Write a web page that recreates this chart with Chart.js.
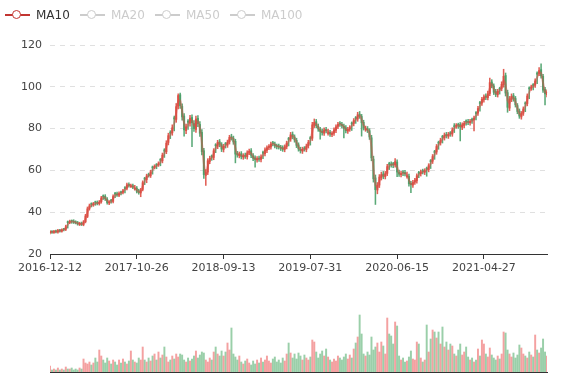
<!DOCTYPE html>
<html>
<head>
<meta charset="utf-8">
<script src="https://cdn.jsdelivr.net/npm/chart.js@4.4.1/dist/chart.umd.min.js"></script>
<style>
  html, body { margin: 0; padding: 0; background: #fff; }
  #wrap { position: relative; width: 577px; height: 380px; overflow: hidden; background: #fff; }
  #legend { position: absolute; left: 0; top: 0; width: 577px; height: 30px; font: 12px "DejaVu Sans", sans-serif; z-index: 2; }
  .item { position: absolute; top: 8px; height: 14px; display: flex; align-items: center; white-space: nowrap; }
  .icon { position: relative; width: 25px; height: 14px; margin-right: 6px; }
  .icon::before { content: ''; position: absolute; left: 0; right: 0; top: 6px; height: 2px; background: currentColor; }
  .icon::after { content: ''; position: absolute; left: 7px; top: 2px; width: 7px; height: 7px; border: 1.5px solid currentColor; border-radius: 50%; background: #fff; }
  #main { position: absolute; left: 0; top: 0; }
  #vol { position: absolute; left: 0; top: 290px; }
</style>
</head>
<body>
<div id="wrap">
  <div id="legend"></div>
  <canvas id="main" width="577" height="290"></canvas>
  <canvas id="vol" width="577" height="90"></canvas>
</div>
<script>
// one candle per ~5 trading days
const tickLabels = ['2016-12-12', '2017-10-26', '2018-09-13', '2019-07-31', '2020-06-15', '2021-04-27'];
const tickEvery = 44;

const opens = [
  30.2, 30.7, 30.3, 30.9, 30.5, 31.3, 30.9, 31.9, 31.8, 35.3,
  35.1, 35.9, 35.7, 35.3, 35.0, 34.2, 34.6, 34.1, 35.5, 38.0,
  41.8, 44.0, 43.5, 44.9, 44.6, 44.1, 45.0, 47.8, 47.6, 46.2,
  44.4, 45.7, 45.2, 49.0, 48.8, 48.1, 49.6, 49.5, 51.6, 51.4,
  53.3, 52.1, 52.7, 51.0, 51.5, 50.2, 49.2, 50.9, 56.2, 55.6,
  57.8, 57.4, 61.6, 61.5, 62.8, 62.7, 65.2, 64.6, 69.8, 69.0,
  73.4, 78.3, 78.0, 85.2, 84.4, 90.8, 96.2, 90.6, 86.0, 79.0,
  83.6, 82.6, 85.3, 82.4, 79.6, 84.9, 82.0, 78.2, 69.4, 57.6,
  59.2, 64.3, 66.9, 66.2, 72.2, 71.5, 73.7, 72.3, 70.0, 72.9,
  72.1, 73.7, 76.1, 75.4, 73.9, 68.1, 67.1, 68.0, 66.4, 67.3,
  66.5, 68.6, 69.4, 67.0, 66.0, 65.0, 65.9, 65.2, 68.7, 68.0,
  69.6, 71.0, 71.2, 72.9, 72.6, 71.6, 71.6, 71.0, 70.8, 70.0,
  71.4, 75.3, 75.0, 77.3, 76.0, 74.4, 72.2, 70.1, 69.2, 70.4,
  70.0, 71.8, 75.7, 75.4, 81.6, 83.3, 81.1, 79.6, 78.8, 77.8,
  79.6, 77.6, 78.2, 77.2, 77.8, 79.2, 81.1, 82.4, 82.0, 81.2,
  80.4, 78.8, 79.8, 82.7, 82.4, 85.3, 84.6, 86.9, 85.8, 83.0,
  79.4, 80.0, 79.0, 75.6, 65.4, 56.4, 50.6, 53.0, 56.6, 58.3,
  57.0, 58.6, 63.3, 63.0, 63.2, 62.6, 64.0, 59.0, 58.0, 59.2,
  59.0, 57.0, 57.2, 53.8, 53.0, 54.4, 55.0, 59.0, 58.4, 59.6,
  59.1, 61.0, 60.4, 64.6, 64.4, 69.0, 68.8, 73.4, 73.2, 76.2,
  75.6, 77.2, 76.4, 78.0, 77.4, 81.3, 81.2, 82.0, 81.9, 80.6,
  81.6, 83.7, 83.4, 82.8, 84.5, 84.2, 87.7, 87.4, 92.5, 92.2,
  93.8, 95.6, 94.8, 96.8, 102.3, 100.4, 97.8, 96.2, 99.3, 99.2,
  101.0, 105.4, 97.2, 89.8, 94.0, 95.8, 94.4, 91.0, 88.4, 85.6,
  87.4, 92.3, 92.0, 99.5, 99.4, 101.1, 100.8, 106.6, 106.4, 108.2,
  105.0, 98.8, 96.2
];

const closes = [
  30.6, 30.4, 30.8, 30.6, 31.2, 31.0, 31.5, 31.7, 33.0, 35.0,
  35.4, 35.6, 35.2, 35.0, 34.4, 34.5, 34.2, 35.3, 38.2, 41.6,
  43.0, 43.7, 43.9, 44.5, 44.2, 44.8, 46.8, 47.4, 46.4, 44.6,
  44.8, 45.3, 47.5, 48.6, 48.3, 48.9, 49.3, 50.2, 51.3, 53.1,
  52.8, 52.5, 52.0, 51.4, 50.0, 49.4, 50.6, 54.1, 55.8, 57.3,
  57.6, 59.2, 61.2, 61.8, 62.4, 63.2, 64.8, 67.3, 69.2, 73.0,
  76.6, 77.8, 80.4, 84.6, 90.5, 95.8, 91.0, 85.6, 79.4, 80.8,
  83.0, 85.0, 82.8, 80.0, 84.6, 82.4, 77.8, 69.0, 58.0, 59.0,
  64.6, 65.8, 66.4, 69.4, 71.8, 73.4, 72.5, 70.2, 71.5, 72.4,
  73.5, 75.8, 75.6, 73.6, 67.8, 67.4, 67.8, 66.6, 67.0, 66.8,
  68.4, 69.2, 67.2, 65.8, 65.2, 65.6, 65.4, 66.4, 68.2, 69.8,
  70.8, 71.4, 72.6, 72.8, 71.8, 71.4, 71.3, 70.6, 70.2, 71.2,
  73.0, 74.8, 77.0, 76.2, 74.6, 72.0, 70.3, 69.4, 70.1, 70.3,
  71.6, 73.4, 75.2, 81.8, 83.0, 81.4, 79.8, 78.6, 78.0, 79.4,
  79.0, 78.0, 77.4, 77.6, 79.4, 80.8, 82.0, 82.2, 81.4, 80.2,
  79.0, 79.6, 80.4, 82.2, 83.8, 84.8, 86.6, 86.0, 82.8, 80.4,
  79.8, 79.2, 76.0, 66.0, 56.0, 50.8, 52.8, 56.8, 58.0, 57.2,
  58.4, 61.8, 62.8, 62.6, 62.8, 64.2, 59.2, 58.2, 58.4, 58.8,
  58.4, 57.4, 53.6, 53.2, 54.2, 55.2, 57.4, 58.6, 59.2, 59.4,
  59.8, 60.6, 62.2, 64.2, 66.6, 68.6, 71.4, 73.0, 74.4, 75.8,
  76.9, 76.6, 77.2, 77.6, 79.4, 80.9, 81.4, 81.6, 80.8, 81.8,
  82.5, 83.2, 83.0, 83.4, 84.0, 85.0, 87.2, 89.6, 92.0, 94.0,
  95.2, 95.0, 96.6, 102.0, 100.6, 97.4, 96.4, 97.8, 98.8, 101.2,
  105.0, 97.0, 90.2, 94.2, 95.4, 94.2, 91.4, 88.2, 86.0, 87.2,
  89.4, 91.8, 95.6, 99.0, 99.8, 100.6, 102.8, 106.0, 107.8, 105.2,
  98.4, 96.6, 97.6
];

const highs = [
  31.2, 31.2, 31.3, 31.4, 31.8, 31.8, 32.0, 32.3, 33.8, 35.8,
  36.2, 36.3, 36.4, 35.9, 35.6, 35.2, 35.3, 36.0, 39.0, 42.5,
  43.9, 44.5, 44.7, 45.3, 45.4, 45.6, 47.6, 48.3, 48.4, 47.0,
  45.6, 46.1, 48.3, 49.5, 49.6, 49.7, 50.1, 51.0, 52.2, 53.9,
  54.1, 53.4, 53.5, 52.9, 52.3, 51.0, 51.4, 55.0, 56.7, 58.2,
  58.7, 60.1, 62.1, 62.7, 63.3, 64.1, 65.7, 68.3, 70.4, 74.2,
  77.8, 79.0, 81.8, 86.0, 92.0, 96.6, 97.0, 91.8, 87.2, 82.2,
  84.3, 86.4, 86.6, 83.8, 86.0, 86.2, 83.3, 79.5, 70.6, 60.4,
  65.6, 66.8, 67.4, 70.4, 72.8, 74.4, 74.8, 73.3, 72.5, 73.4,
  74.5, 76.8, 77.3, 76.4, 74.9, 69.1, 68.8, 69.0, 68.0, 68.3,
  69.4, 70.2, 70.4, 68.0, 67.0, 66.6, 66.9, 67.4, 69.2, 70.8,
  71.8, 72.4, 73.6, 73.9, 73.6, 72.6, 72.6, 72.0, 71.8, 72.2,
  74.0, 75.8, 78.2, 78.4, 77.0, 75.4, 73.2, 71.1, 71.1, 71.4,
  72.6, 74.4, 76.2, 83.0, 84.6, 84.4, 82.2, 80.6, 79.8, 80.4,
  80.6, 79.8, 79.2, 78.6, 80.4, 81.8, 83.0, 83.4, 83.0, 82.2,
  81.4, 80.6, 81.4, 83.2, 84.8, 85.8, 87.8, 88.2, 86.8, 84.0,
  81.2, 81.0, 80.0, 76.8, 66.8, 57.8, 54.2, 58.0, 59.2, 59.5,
  59.5, 62.9, 63.9, 64.1, 63.9, 65.6, 65.0, 60.1, 59.5, 59.9,
  60.0, 59.2, 58.2, 54.8, 55.2, 56.2, 58.4, 59.6, 60.2, 60.6,
  60.8, 61.6, 63.2, 65.2, 67.6, 69.6, 72.4, 74.0, 75.4, 76.8,
  77.9, 78.2, 78.2, 78.6, 80.4, 82.4, 82.4, 82.6, 82.9, 82.8,
  83.5, 84.2, 84.4, 84.4, 85.0, 86.0, 88.2, 90.6, 93.0, 95.0,
  96.2, 96.6, 98.0, 104.2, 103.4, 101.4, 98.8, 98.8, 99.8, 102.4,
  108.4, 106.6, 98.4, 95.4, 96.6, 96.8, 95.4, 92.0, 89.4, 88.2,
  90.4, 92.8, 96.6, 100.0, 100.8, 101.6, 103.8, 107.2, 109.2, 111.0,
  106.0, 99.8, 98.6
];

const lows = [
  29.6, 29.9, 29.8, 30.1, 30.0, 30.5, 30.4, 31.0, 31.2, 32.4,
  34.5, 34.7, 34.6, 34.4, 33.8, 33.6, 33.6, 33.5, 34.9, 37.4,
  41.0, 42.5, 42.8, 43.3, 43.5, 43.4, 44.3, 46.1, 45.6, 43.8,
  43.6, 44.3, 44.5, 46.9, 47.6, 47.4, 48.3, 48.8, 49.2, 50.7,
  52.0, 51.8, 51.3, 50.6, 49.2, 48.6, 47.4, 50.2, 53.2, 54.1,
  56.8, 56.6, 58.2, 60.7, 60.8, 61.9, 62.2, 63.6, 66.2, 68.0,
  72.2, 75.2, 76.8, 78.9, 83.0, 89.4, 89.6, 84.0, 76.4, 77.6,
  79.6, 81.2, 71.3, 78.6, 78.2, 80.9, 76.2, 67.4, 56.2, 52.8,
  58.0, 63.2, 64.8, 65.1, 68.5, 70.4, 71.3, 69.0, 68.8, 70.7,
  71.0, 72.6, 74.5, 72.5, 63.6, 66.3, 66.0, 65.5, 65.3, 65.7,
  65.4, 67.5, 66.1, 64.7, 61.6, 63.9, 64.3, 64.1, 65.6, 66.9,
  68.5, 69.9, 70.1, 71.7, 70.7, 70.3, 70.2, 69.5, 69.1, 68.9,
  70.3, 71.7, 73.9, 75.1, 73.5, 70.9, 69.2, 68.3, 68.1, 69.2,
  68.9, 70.7, 72.1, 74.3, 80.5, 80.3, 78.7, 75.0, 76.9, 76.7,
  77.9, 76.9, 76.3, 76.1, 76.7, 78.1, 80.0, 81.1, 80.3, 75.6,
  77.9, 77.7, 78.7, 79.1, 81.3, 82.5, 83.5, 84.9, 76.4, 79.3,
  78.7, 78.1, 74.8, 64.6, 54.4, 43.7, 48.8, 51.8, 55.4, 56.0,
  55.9, 57.5, 60.4, 61.5, 61.3, 61.5, 57.0, 57.1, 56.9, 57.5,
  57.3, 56.3, 52.5, 49.3, 51.9, 53.3, 53.9, 56.5, 57.3, 58.3,
  58.0, 57.2, 59.3, 60.9, 63.3, 65.3, 67.7, 70.1, 72.1, 73.1,
  74.5, 75.5, 75.3, 76.3, 76.3, 78.1, 80.1, 80.1, 74.1, 79.5,
  80.5, 81.7, 81.9, 81.7, 82.5, 78.9, 84.1, 86.3, 88.3, 91.1,
  92.7, 93.9, 93.7, 95.7, 99.5, 96.3, 95.3, 95.1, 96.5, 98.1,
  99.8, 95.6, 87.8, 88.6, 92.9, 93.1, 90.3, 87.1, 84.9, 84.5,
  86.3, 88.1, 90.9, 94.3, 98.3, 98.5, 99.7, 101.5, 105.3, 104.1,
  97.3, 91.3, 95.1
];

const ma10 = [
  30.6, 30.5, 30.6, 30.7, 30.9, 31.1, 31.3, 31.6, 32.4, 34.0,
  35.2, 35.5, 35.4, 35.1, 34.7, 34.5, 34.4, 34.8, 36.8, 39.9,
  42.3, 43.4, 43.8, 44.2, 44.4, 44.5, 45.8, 47.1, 46.9, 45.5,
  44.7, 45.1, 46.4, 48.1, 48.5, 48.6, 49.1, 49.8, 50.8, 52.2,
  53.0, 52.7, 52.3, 51.7, 50.7, 49.7, 50.0, 52.4, 55.0, 56.6,
  57.5, 58.4, 60.2, 61.5, 62.1, 62.8, 64.0, 66.1, 68.3, 71.1,
  74.8, 77.2, 79.1, 82.5, 87.6, 93.2, 93.4, 88.3, 82.5, 80.1,
  81.9, 84.0, 83.9, 81.4, 82.3, 83.5, 80.1, 73.4, 63.5, 58.5,
  61.8, 65.2, 66.1, 67.9, 70.6, 72.6, 73.0, 71.4, 70.9, 72.0,
  73.0, 74.7, 75.7, 74.6, 70.7, 67.6, 67.6, 67.2, 66.8, 66.9,
  67.6, 68.8, 68.2, 66.5, 65.5, 65.4, 65.5, 65.9, 67.3, 69.0,
  70.3, 71.1, 72.0, 72.7, 72.3, 71.6, 71.4, 71.0, 70.4, 70.7,
  72.1, 73.9, 75.9, 76.6, 75.4, 73.3, 71.2, 69.9, 69.8, 70.2,
  71.0, 72.5, 74.3, 78.5, 82.4, 82.2, 80.6, 79.2, 78.3, 78.7,
  79.2, 78.5, 77.7, 77.5, 78.5, 80.1, 81.4, 82.1, 81.8, 80.8,
  79.6, 79.3, 80.0, 81.3, 83.0, 84.3, 85.7, 86.3, 84.4, 81.6,
  80.1, 79.5, 77.6, 71.0, 61.0, 53.4, 51.8, 54.8, 57.4, 57.6,
  57.8, 60.1, 62.3, 62.7, 62.7, 63.5, 61.7, 58.7, 58.3, 58.6,
  58.6, 57.9, 55.5, 53.4, 53.7, 54.7, 56.3, 58.0, 58.9, 59.3,
  59.6, 60.2, 61.4, 63.2, 65.4, 67.6, 70.0, 72.2, 73.7, 75.1,
  76.4, 76.8, 76.9, 77.4, 78.5, 80.2, 81.2, 81.5, 81.2, 81.3,
  82.2, 82.9, 83.1, 83.2, 83.7, 84.5, 86.1, 88.4, 90.8, 93.0,
  94.6, 95.1, 95.8, 99.3, 101.3, 99.0, 96.9, 97.1, 98.3, 100.0,
  103.1, 101.0, 93.6, 92.2, 94.8, 94.8, 92.8, 89.8, 87.1, 86.6,
  88.3, 90.6, 93.7, 97.3, 99.4, 100.2, 101.7, 104.4, 106.9, 106.5,
  101.8, 97.5, 97.1
];

const volumes = [
  6, 2, 3, 2, 4, 2, 3, 2, 5, 3,
  3, 4, 2, 3, 2, 4, 3, 13, 9, 8,
  10, 7, 9, 14, 10, 22, 16, 12, 9, 14,
  11, 8, 12, 10, 7, 12, 9, 13, 10, 8,
  11, 21, 12, 10, 9, 14, 12, 25, 12, 10,
  14, 11, 16, 18, 12, 20, 14, 17, 25, 15,
  10, 12, 16, 13, 18, 15, 18, 17, 12, 10,
  14, 11, 13, 16, 21, 14, 17, 20, 19, 12,
  10, 14, 12, 20, 25, 18, 16, 21, 16, 20,
  29, 22, 44, 18, 15, 12, 16, 10, 8, 11,
  13, 9, 7, 11, 8, 12, 9, 14, 10, 12,
  16, 11, 9, 13, 15, 10, 12, 9, 14, 11,
  18, 29, 19, 14, 18, 13, 19, 16, 12, 17,
  14, 12, 15, 32, 30, 20, 14, 18, 21, 16,
  23, 15, 12, 10, 13, 11, 16, 14, 12, 15,
  18, 13, 17, 14, 23, 29, 35, 57, 38, 18,
  16, 20, 17, 35, 22, 25, 29, 20, 30, 26,
  18, 54, 38, 36, 28, 50, 46, 16, 12, 14,
  10, 11, 15, 21, 13, 12, 30, 28, 14, 10,
  12, 47, 20, 33, 42, 40, 34, 40, 28, 45,
  25, 30, 22, 28, 26, 18, 16, 22, 28, 17,
  20, 25, 15, 12, 14, 10, 12, 23, 16, 32,
  28, 18, 15, 24, 17, 14, 12, 16, 13, 18,
  40, 39, 22, 18, 15, 19, 14, 17, 27, 24,
  18, 16, 14, 20, 17, 15, 37, 22, 19, 24,
  33, 20, 16
];

const legendNames = ['MA10', 'MA20', 'MA50', 'MA100'];
const legendActive = [true, false, false, false];

const FONT = '"DejaVu Sans", sans-serif';

const labels = closes.map((_, i) => i);
const isUp = closes.map((c, i) => c >= opens[i]);
const candleColors = isUp.map(u => u ? 'rgba(222,78,68,0.9)' : 'rgba(72,160,104,0.9)');
const volColors = isUp.map(u => u ? 'rgba(235,84,84,0.55)' : 'rgba(71,168,98,0.55)');

// legend (ECharts style, inactive series greyed out)
const legend = document.getElementById('legend');
legendNames.forEach((name, i) => {
  const item = document.createElement('div');
  item.className = 'item';
  item.style.left = (5 + i * 75) + 'px';
  item.style.color = legendActive[i] ? '#c23531' : '#ccc';
  const icon = document.createElement('span');
  icon.className = 'icon';
  const text = document.createElement('span');
  text.textContent = name;
  text.style.color = legendActive[i] ? '#333' : '#ccc';
  item.appendChild(icon);
  item.appendChild(text);
  legend.appendChild(item);
});

const showTick = i => i % tickEvery === 0 && tickLabels[i / tickEvery] !== undefined;

new Chart(document.getElementById('main'), {
  data: {
    labels,
    datasets: [
      {
        type: 'line',
        label: 'MA10',
        data: ma10,
        borderColor: 'rgba(214,80,70,0.5)',
        borderWidth: 2,
        pointRadius: 0,
        tension: 0.3,
        order: 0
      },
      {
        type: 'bar',
        label: 'body',
        data: opens.map((o, i) => [o, closes[i]]),
        backgroundColor: candleColors,
        barThickness: 1.4,
        minBarLength: 1,
        grouped: false,
        order: 1
      },
      {
        type: 'bar',
        label: 'wick',
        data: lows.map((l, i) => [l, highs[i]]),
        backgroundColor: candleColors,
        barThickness: 0.9,
        grouped: false,
        order: 2
      }
    ]
  },
  options: {
    responsive: false,
    animation: false,
    layout: { padding: { left: 0, right: 30, top: 45, bottom: 6 } },
    plugins: { legend: { display: false }, tooltip: { enabled: false } },
    scales: {
      x: {
        type: 'category',
        offset: false,
        grid: {
          display: true,
          offset: false,
          drawOnChartArea: false,
          tickLength: 5,
          color: ctx => showTick(ctx.index) ? '#333' : 'rgba(0,0,0,0)'
        },
        border: { display: true, color: '#333', width: 1 },
        ticks: {
          autoSkip: false,
          maxRotation: 0,
          minRotation: 0,
          padding: 3,
          color: '#444',
          font: { family: FONT, size: 11 },
          callback: (v, i) => showTick(i) ? tickLabels[i / tickEvery] : ''
        },
        afterFit: s => { s.height = 30; }
      },
      y: {
        min: 20,
        max: 120,
        ticks: { stepSize: 20, padding: 8, color: '#444', font: { family: FONT, size: 11 } },
        grid: { color: '#e0e0e0', drawTicks: false },
        border: { display: false, dash: [5, 5] },
        afterFit: s => { s.width = 50; }
      }
    }
  }
});

new Chart(document.getElementById('vol'), {
  type: 'bar',
  data: {
    labels,
    datasets: [{
      label: 'Volume',
      data: volumes,
      backgroundColor: volColors,
      barThickness: 1.3
    }]
  },
  options: {
    responsive: false,
    animation: false,
    layout: { padding: { left: 50, right: 30, top: 22, bottom: 8 } },
    plugins: { legend: { display: false }, tooltip: { enabled: false } },
    scales: {
      x: {
        offset: false,
        grid: { display: false },
        ticks: { display: false },
        border: { display: true, color: '#333', width: 1 },
        afterFit: s => { s.height = 0; }
      },
      y: { display: false, min: 0, max: 60 }
    }
  }
});
</script>
</body>
</html>
